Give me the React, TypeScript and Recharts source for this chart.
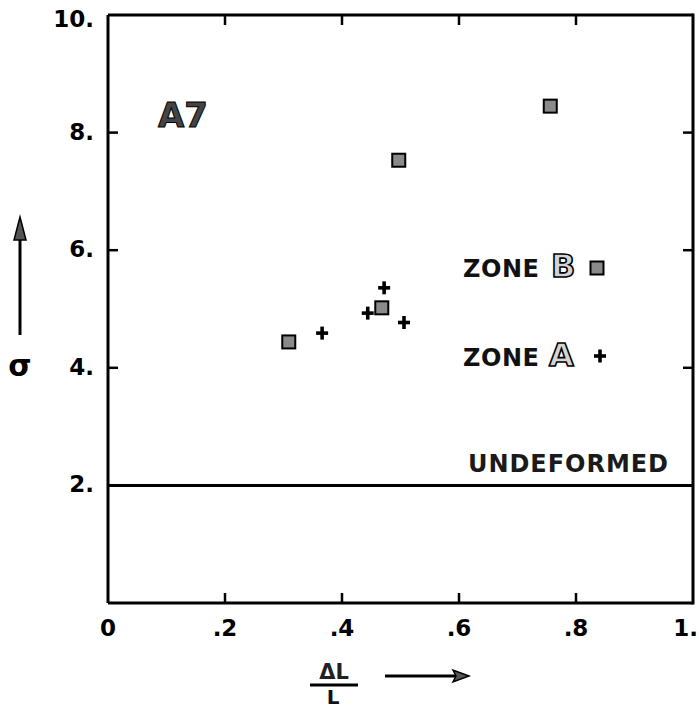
import React from "react";
import { ScatterChart, Scatter, XAxis, YAxis, ReferenceLine } from "recharts";

// Strain (ΔL/L) vs stress (σ) measurements for specimen A7
const zoneBStrain = [0.309, 0.468, 0.497, 0.756];
const zoneBStress = [4.44, 5.02, 7.53, 8.45];
const zoneAStrain = [0.366, 0.444, 0.472, 0.506];
const zoneAStress = [4.59, 4.93, 5.36, 4.77];
const undeformedStress = 2;

const xTicks = [0, 0.2, 0.4, 0.6, 0.8, 1];
const xTickLabels = ["0", ".2", ".4", ".6", ".8", "1."];
const yTicks = [0, 2, 4, 6, 8, 10];
const yTickLabels = ["", "2.", "4.", "6.", "8.", "10."];

const zoneB = zoneBStrain.map((x, i) => ({ x, y: zoneBStress[i] }));
const zoneA = zoneAStrain.map((x, i) => ({ x, y: zoneAStress[i] }));

const xMin = xTicks[0];
const xMax = xTicks[xTicks.length - 1];
const yMin = yTicks[0];
const yMax = yTicks[yTicks.length - 1];
const innerXTicks = xTicks.filter((t) => t !== xMin && t !== xMax);
const innerYTicks = yTicks.filter((t) => t !== yMin && t !== yMax);

const W = 699;
const H = 710;
const MARGIN = { top: 15, right: 6, bottom: 47, left: 0 };
const X_AXIS_H = 60;
const Y_AXIS_W = 108;
// plot rectangle implied by the margins and axis sizes
const PLOT_L = MARGIN.left + Y_AXIS_W;
const PLOT_T = MARGIN.top;
const PLOT_W = W - MARGIN.left - MARGIN.right - Y_AXIS_W;
const PLOT_H = H - MARGIN.top - MARGIN.bottom - X_AXIS_H;
const FONT = "'DejaVu Sans', 'Liberation Sans', Arial, sans-serif";
const TICK_LEN = 10;

const SquareMark = ({ cx, cy }: any) => (
  <rect x={cx - 6.5} y={cy - 6.5} width={13} height={13} fill="#8a8a8a" stroke="#000" strokeWidth={2} />
);

const PlusMark = ({ cx, cy }: any) => (
  <g stroke="#000" strokeWidth={3.6} strokeLinecap="butt">
    <line x1={cx - 6} y1={cy} x2={cx + 6} y2={cy} />
    <line x1={cx} y1={cy - 6.5} x2={cx} y2={cy + 6.5} />
  </g>
);

const BottomTick = ({ x, y, payload }: any) => {
  const i = xTicks.indexOf(payload.value);
  const last = i === xTicks.length - 1;
  const innerTick = payload.value !== xMin && payload.value !== xMax;
  return (
    <g>
      {innerTick && <line x1={x} y1={y} x2={x} y2={y - TICK_LEN} stroke="#000" strokeWidth={2.5} />}
      <text
        x={last ? x + 5 : x}
        y={y + 25}
        textAnchor={last ? "end" : "middle"}
        dominantBaseline="central"
        fontFamily={FONT}
        fontWeight="bold"
        fontSize={23}
        fill="#000"
      >
        {xTickLabels[i]}
      </text>
    </g>
  );
};

const LeftTick = ({ x, y, payload }: any) => {
  const i = yTicks.indexOf(payload.value);
  const top = i === yTicks.length - 1;
  const showLine = payload.value !== yMin && payload.value !== yMax;
  return (
    <g>
      {showLine && <line x1={x} y1={y} x2={x + TICK_LEN} y2={y} stroke="#000" strokeWidth={2.5} />}
      <text
        x={x - 14}
        y={top ? y + 4 : y - 1}
        textAnchor="end"
        dominantBaseline="central"
        fontFamily={FONT}
        fontWeight="bold"
        fontSize={23}
        fill="#000"
      >
        {yTickLabels[i]}
      </text>
    </g>
  );
};

// Short inward tick on the right frame edge (horizontal reference line clipped to its right end)
const RightTickShape = (props: any) => {
  const { x1, x2, y1 } = props;
  const right = Math.max(x1, x2);
  return <line x1={right} y1={y1} x2={right - TICK_LEN} y2={y1} stroke="#000" strokeWidth={2.5} />;
};

const UndeformedLabel = ({ viewBox }: any) => {
  const { x, y, width } = viewBox;
  return (
    <text x={x + width - 25} y={y - 13} textAnchor="end" fontFamily={FONT} fontWeight="bold" fontSize={24} fill="#1a1a1a" textLength={200} lengthAdjust="spacing">
      UNDEFORMED
    </text>
  );
};

const axisLine = { stroke: "#000", strokeWidth: 3 };

// position of an x tick value along the frame's top edge
const frameX = (t: number) => PLOT_L + ((t - xMin) / (xMax - xMin)) * PLOT_W;

export default function App() {
  return (
    <div style={{ position: "absolute", left: 0, top: 0, width: W, height: H, overflow: "hidden" }}>
      <ScatterChart width={W} height={H} margin={MARGIN}>
        <XAxis
          type="number"
          dataKey="x"
          domain={[xMin, xMax]}
          ticks={xTicks}
          interval={0}
          height={X_AXIS_H}
          tickSize={0}
          tickMargin={0}
          tickLine={false}
          axisLine={axisLine}
          tick={<BottomTick />}
        />
        <YAxis
          type="number"
          dataKey="y"
          domain={[yMin, yMax]}
          ticks={yTicks}
          interval={0}
          width={Y_AXIS_W}
          tickSize={0}
          tickMargin={0}
          tickLine={false}
          axisLine={axisLine}
          tick={<LeftTick />}
        />

        {/* top frame edge and inward ticks on the right edge */}
        <ReferenceLine y={yMax} stroke="#000" strokeWidth={3} />
        {innerYTicks.map((t) => (
          <ReferenceLine key={`ry${t}`} y={t} shape={RightTickShape} />
        ))}

        <ReferenceLine y={undeformedStress} stroke="#000" strokeWidth={3} label={<UndeformedLabel />} />
        <Scatter name="ZONE B" data={zoneB} shape={<SquareMark />} isAnimationActive={false} />
        <Scatter name="ZONE A" data={zoneA} shape={<PlusMark />} isAnimationActive={false} />
      </ScatterChart>

      {/* Frame right edge, top ticks, annotations, key and axis titles */}
      <svg width={W} height={H} style={{ position: "absolute", left: 0, top: 0, pointerEvents: "none" }}>
        <line x1={PLOT_L + PLOT_W} y1={PLOT_T - 1.5} x2={PLOT_L + PLOT_W} y2={PLOT_T + PLOT_H + 1.5} stroke="#000" strokeWidth={3} />
        <g stroke="#000" strokeWidth={2.5}>
          {innerXTicks.map((t) => (
            <line key={`tt${t}`} x1={frameX(t)} y1={PLOT_T} x2={frameX(t)} y2={PLOT_T + TICK_LEN} />
          ))}
        </g>

        <text x={158} y={127} fontFamily={FONT} fontWeight="bold" fontSize={34} fill="#444" stroke="#000" strokeWidth={1}>
          A7
        </text>

        <text x={463} y={277} fontFamily={FONT} fontWeight="bold" fontSize={24} fill="#111" textLength={76} lengthAdjust="spacing">
          ZONE
        </text>
        <text x={551} y={277} fontFamily={FONT} fontWeight="bold" fontSize={32} fill="#d4d4d4" stroke="#000" strokeWidth={1.6}>
          B
        </text>
        <rect x={590.5} y={261.5} width={13} height={13} fill="#8a8a8a" stroke="#000" strokeWidth={2} />

        <text x={463} y={366} fontFamily={FONT} fontWeight="bold" fontSize={24} fill="#111" textLength={76} lengthAdjust="spacing">
          ZONE
        </text>
        <text x={549} y={366} fontFamily={FONT} fontWeight="bold" fontSize={32} fill="#d4d4d4" stroke="#000" strokeWidth={1.6}>
          A
        </text>
        <g stroke="#000" strokeWidth={3.6}>
          <line x1={594} y1={356} x2={606} y2={356} />
          <line x1={600} y1={349.5} x2={600} y2={362.5} />
        </g>

        {/* y title: arrow and sigma */}
        <line x1={20} y1={233} x2={20} y2={335} stroke="#000" strokeWidth={3} />
        <polygon points="20,217 14,240 26,240" fill="#555" stroke="#000" strokeWidth={1.5} />
        <text x={20} y={365} textAnchor="middle" dominantBaseline="central" fontFamily={FONT} fontWeight="bold" fontSize={30} fill="#000">
          σ
        </text>

        {/* x title: ΔL / L and arrow */}
        <text x={334} y={679} textAnchor="middle" fontFamily={FONT} fontWeight="bold" fontSize={21} fill="#222">
          ΔL
        </text>
        <line x1={310} y1={685} x2={358} y2={685} stroke="#000" strokeWidth={3} />
        <text x={333} y={704} textAnchor="middle" fontFamily={FONT} fontWeight="bold" fontSize={20} fill="#111">
          L
        </text>
        <line x1={385} y1={676} x2={458} y2={676} stroke="#000" strokeWidth={3} />
        <polygon points="469,676 453,670 456,676 453,682" fill="#555" stroke="#000" strokeWidth={1.5} />
      </svg>
    </div>
  );
}
